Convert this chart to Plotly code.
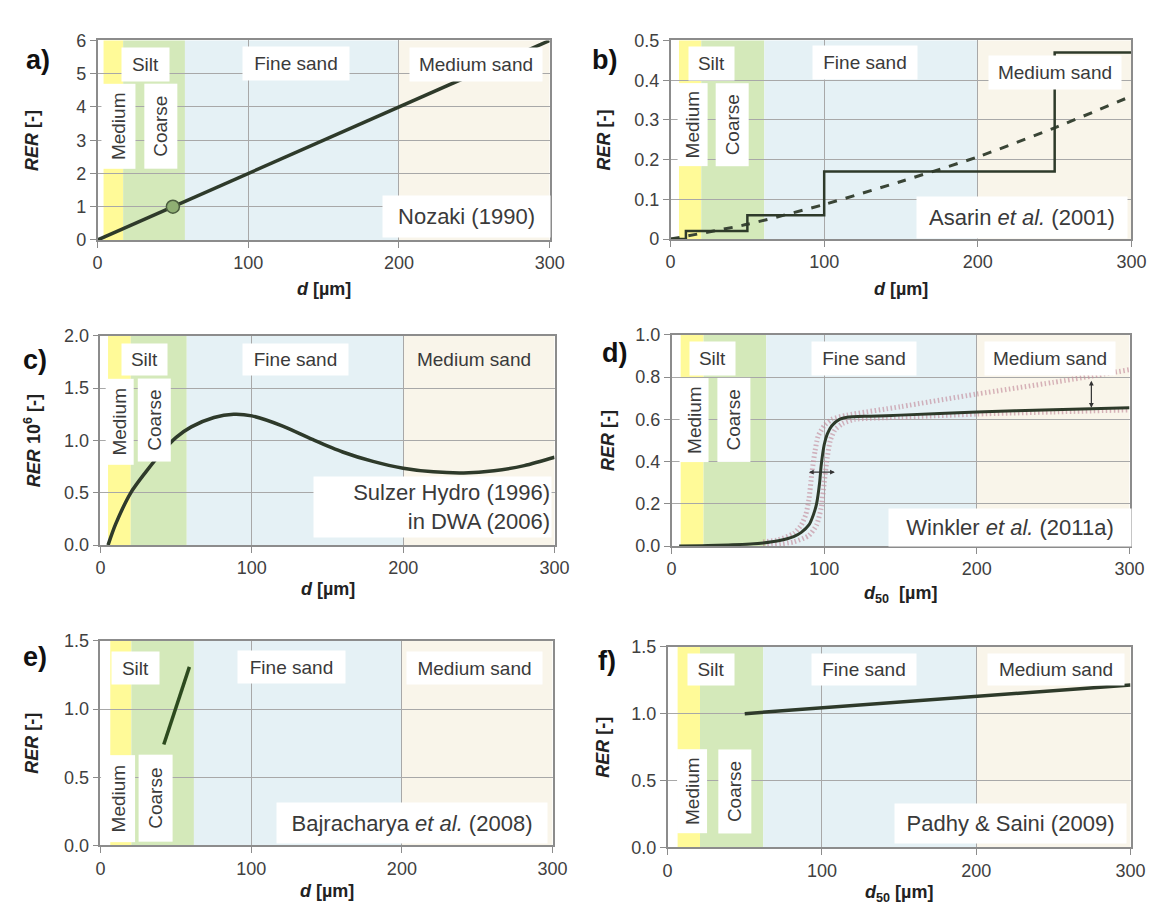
import plotly.graph_objects as go

W, H = 1167, 907
FONT = "Liberation Sans, Arial, sans-serif"

# ---------------- data ----------------
a_x = [0, 300]
a_y = [0, 6]
a_pt_x = [50]
a_pt_y = [1]

b_step_x = [0, 10, 50, 100, 250, 300]
b_step_y = [0, 0.02, 0.06, 0.17, 0.47, 0.47]
b_dash_x = [0, 50, 100, 150, 200, 250, 300]
b_dash_y = [0, 0.037, 0.087, 0.145, 0.207, 0.28, 0.36]

c_x = [5, 10, 20, 30, 40, 50, 60, 75, 88, 100, 120, 140, 160, 180, 200, 220, 240, 260, 280, 300]
c_y = [0, 0.2, 0.5, 0.7, 0.88, 1.03, 1.13, 1.22, 1.25, 1.235, 1.14, 1.01, 0.89, 0.8, 0.735, 0.7, 0.69, 0.71, 0.76, 0.84]

d_x = [5, 20, 40, 60, 70, 80, 85, 90, 93, 95, 97, 98, 100, 102, 105, 110, 115, 130, 150, 200, 250, 300]
d_y = [0, 0.002, 0.006, 0.015, 0.025, 0.045, 0.065, 0.1, 0.15, 0.2, 0.3, 0.38, 0.48, 0.53, 0.57, 0.6, 0.61, 0.615, 0.62, 0.635, 0.645, 0.655]
d_up_x = [60, 70, 80, 85, 88, 90, 92, 94, 96, 100, 105, 115, 150, 200, 250, 300]
d_up_y = [0.02, 0.03, 0.06, 0.1, 0.15, 0.22, 0.35, 0.45, 0.52, 0.57, 0.6, 0.62, 0.66, 0.72, 0.775, 0.835]
d_lo_x = [60, 80, 90, 95, 98, 100, 102, 104, 107, 112, 120, 150, 200, 250, 300]
d_lo_y = [0.0, 0.02, 0.05, 0.1, 0.18, 0.3, 0.42, 0.5, 0.55, 0.58, 0.6, 0.61, 0.625, 0.635, 0.645]

e_x = [42, 59]
e_y = [0.74, 1.31]

f_x = [50, 300]
f_y = [1.0, 1.215]

# grain-size class edges (µm) per panel
band_edges = {
    "a": [4, 17, 58, 200, 300],
    "b": [5.5, 20, 61, 200, 300],
    "c": [5, 20, 57, 200, 300],
    "d": [6, 21, 62, 200, 300],
    "e": [6.5, 20.5, 62, 200, 300],
    "f": [6.5, 21, 62, 200, 300],
}
band_colors = ["#FFFA98", "#D4E9BA", "#E5F1F5", "#F9F5EA"]

y_ranges = {"a": [0, 6], "b": [0, 0.5], "c": [0, 2.0], "d": [0, 1.0], "e": [0, 1.5], "f": [0, 1.5]}
y_dticks = {"a": 1, "b": 0.1, "c": 0.5, "d": 0.2, "e": 0.5, "f": 0.5}
y_formats = {"a": "d", "b": "", "c": ".1f", "d": ".1f", "e": ".1f", "f": ".1f"}
y_titles = {
    "a": "<b><i>RER</i> [-]</b>",
    "b": "<b><i>RER</i> [-]</b>",
    "c": "<b><i>RER</i> 10<sup>6</sup> [-]</b>",
    "d": "<b><i>RER</i> [-]</b>",
    "e": "<b><i>RER</i> [-]</b>",
    "f": "<b><i>RER</i> [-]</b>",
}
x_titles = {
    "a": "<b><i>d</i> [µm]</b>",
    "b": "<b><i>d</i> [µm]</b>",
    "c": "<b><i>d</i> [µm]</b>",
    "d": "<b><i>d</i><sub>50</sub>  [µm]</b>",
    "e": "<b><i>d</i> [µm]</b>",
    "f": "<b><i>d</i><sub>50</sub> [µm]</b>",
}
citations = {
    "a": "Nozaki (1990)",
    "b": "Asarin <i>et al.</i> (2001)",
    "c": "Sulzer Hydro (1996)<br>in DWA (2006)",
    "d": "Winkler <i>et al.</i> (2011a)",
    "e": "Bajracharya <i>et al.</i> (2008)",
    "f": "Padhy &amp; Saini (2009)",
}

# ---------------- layout geometry (pixels) ----------------
panels = {
    "a": dict(x0=86, x1=546, y0=23, y1=227),
    "b": dict(x0=669, x1=1138, y0=23, y1=226),
    "c": dict(x0=89, x1=551, y0=325, y1=539),
    "d": dict(x0=670, x1=1136, y0=324, y1=540),
    "e": dict(x0=89, x1=549, y0=637, y1=846),
    "f": dict(x0=666, x1=1137, y0=643, y1=848),
}
order = ["a", "b", "c", "d", "e", "f"]

# label boxes: (x_center data, y_center frac, width px, height px)
boxes = {
    "a": dict(silt=(32, 0.882, 45, 31), med=(14, 0.568, 31, 82), coarse=(41.8, 0.568, 30, 82),
              fine=(132, 0.885, 104, 31), meds=(251, 0.882, 130, 31), cit=(245, 0.12, 165, 39)),
    "b": dict(silt=(26.7, 0.882, 43, 31), med=(14.2, 0.578, 27, 80), coarse=(40.3, 0.578, 30, 80),
              fine=(126.5, 0.89, 102, 31), meds=(250, 0.837, 130, 31), cit=(228.5, 0.11, 208, 39)),
    "c": dict(silt=(29, 0.887, 43, 29), med=(12.4, 0.588, 25, 83), coarse=(35.8, 0.596, 30, 80),
              fine=(128.8, 0.887, 103, 29), meds=(247, 0.887, 130, 29), cit=(219.5, 0.18, 235, 58)),
    "d": dict(silt=(27, 0.887, 43, 31), med=(14.6, 0.598, 26, 81), coarse=(40.7, 0.598, 30, 81),
              fine=(126.4, 0.887, 102, 31), meds=(248, 0.887, 128, 31), cit=(222, 0.09, 240, 35)),
    "e": dict(silt=(23.4, 0.87, 45, 30), med=(11.7, 0.229, 31, 84), coarse=(36.6, 0.229, 31, 84),
              fine=(126.8, 0.874, 105, 30), meds=(248, 0.87, 133, 30), cit=(206.5, 0.11, 268, 38)),
    "f": dict(silt=(28, 0.887, 44, 29), med=(15.9, 0.278, 27, 81), coarse=(43.3, 0.278, 30, 81),
              fine=(127.6, 0.887, 102, 29), meds=(252, 0.887, 134, 29), cit=(222, 0.117, 229, 37)),
}
meds_bg = {"a": "white", "b": "white", "c": "rgba(0,0,0,0)", "d": "white", "e": "white", "f": "white"}

panel_letter_pos = {"a": (25, 43), "b": (602, 43), "c": (22, 350), "d": (612, 343), "e": (22, 653), "f": (604, 658)}
ytitle_x = {"a": 20, "b": 601, "c": 20, "d": 606, "e": 19, "f": 600}
xtitle_y = {"a": 277, "b": 277, "c": 584, "d": 590, "e": 893, "f": 895}

LINE = "#2E3A2A"
TXT = "#3A3A3A"
GRID = "#A8A8A8"
LABEL_SIZE = 19

fig = go.Figure()
annotations = []
shapes = []
layout = dict(
    width=W, height=H, margin=dict(l=0, r=0, t=0, b=0),
    paper_bgcolor="white", plot_bgcolor="white", showlegend=False,
    font=dict(family=FONT, color=TXT, size=18),
)

for i, p in enumerate(order):
    n = "" if i == 0 else str(i + 1)
    xa, ya = "x" + n, "y" + n
    g = panels[p]
    xdom = [g["x0"] / W, g["x1"] / W]
    ydom = [1 - g["y1"] / H, 1 - g["y0"] / H]
    layout["xaxis" + n] = dict(
        domain=xdom, anchor=ya, range=[0, 300], dtick=100, tick0=0,
        showgrid=True, gridcolor=GRID, gridwidth=1, zeroline=False,
        showline=True, linecolor="#8C8C8C", linewidth=1.5, mirror=True,
        ticks="outside", ticklen=6, tickcolor="#8C8C8C",
        tickfont=dict(size=18, color="#404040", family=FONT),
    )
    layout["yaxis" + n] = dict(
        domain=ydom, anchor=xa, range=y_ranges[p], dtick=y_dticks[p], tick0=0,
        tickformat=y_formats[p],
        showgrid=True, gridcolor=GRID, gridwidth=1, zeroline=False,
        showline=True, linecolor="#8C8C8C", linewidth=1.5, mirror=True,
        ticks="outside", ticklen=6, tickcolor="#8C8C8C",
        tickfont=dict(size=18, color="#404040", family=FONT),
    )
    # bands
    e = band_edges[p]
    for k in range(4):
        shapes.append(dict(type="rect", xref=xa, yref=ya + " domain", x0=e[k], x1=e[k + 1], y0=0, y1=1,
                           fillcolor=band_colors[k], line=dict(width=0), layer="below"))
    # boxes
    bx = boxes[p]
    def add_box(key, text, size, angle=0, bg="white", align="center"):
        xc, yf, w, h = bx[key]
        if angle:
            w, h = h, w
        annotations.append(dict(
            xref=xa, yref=ya + " domain", x=xc, y=yf, text=text, showarrow=False,
            width=w, height=h, bgcolor=bg, textangle=angle, align=align,
            xanchor="center", yanchor="middle", valign="middle",
            font=dict(size=size, color=TXT, family=FONT),
        ))
    add_box("silt", "Silt", LABEL_SIZE)
    add_box("med", "Medium", LABEL_SIZE, angle=-90)
    add_box("coarse", "Coarse", LABEL_SIZE, angle=-90)
    add_box("fine", "Fine sand", LABEL_SIZE)
    add_box("meds", "Medium sand", LABEL_SIZE, bg=meds_bg[p])
    add_box("cit", citations[p], 22, align="right" if p == "c" else "center")

    # panel letters and titles
    lx, ly = panel_letter_pos[p]
    annotations.append(dict(xref="paper", yref="paper", x=lx / W, y=1 - ly / H, text="<b>%s)</b>" % p,
                            showarrow=False, xanchor="center", yanchor="middle",
                            font=dict(size=27, color="#111111", family=FONT)))
    annotations.append(dict(xref="paper", yref="paper", x=ytitle_x[p] / W, y=1 - (g["y0"] + g["y1"]) / 2 / H,
                            text=y_titles[p], textangle=-90, showarrow=False,
                            xanchor="center", yanchor="middle",
                            font=dict(size=18, color="#222222", family=FONT)))
    annotations.append(dict(xref="paper", yref="paper", x=(g["x0"] + g["x1"]) / 2 / W, y=1 - xtitle_y[p] / H,
                            text=x_titles[p], showarrow=False, xanchor="center", yanchor="middle",
                            font=dict(size=18, color="#222222", family=FONT)))

# ---------------- traces ----------------
def tr(x, y, ax, **kw):
    n = "" if ax == 1 else str(ax)
    fig.add_trace(go.Scatter(x=x, y=y, xaxis="x" + n, yaxis="y" + n, hoverinfo="skip", **kw))

tr(a_x, a_y, 1, mode="lines", line=dict(color=LINE, width=3.5))
tr(a_pt_x, a_pt_y, 1, mode="markers", marker=dict(size=13, color="#8FAF73", line=dict(color="#4C5E40", width=1.5)))

tr(b_dash_x, b_dash_y, 2, mode="lines", line=dict(color="#3A4536", width=3, dash="dash", shape="spline", smoothing=0.6))
tr(b_step_x, b_step_y, 2, mode="lines", line=dict(color=LINE, width=2.5, shape="hv"))

tr(c_x, c_y, 3, mode="lines", line=dict(color=LINE, width=3.5, shape="spline", smoothing=0.8))

HATCH = "rgba(195,140,155,0.65)"
tr(d_up_x, d_up_y, 4, mode="lines", line=dict(color=HATCH, width=5, dash="1.5px,2.5px", shape="spline", smoothing=0.6))
tr(d_lo_x, d_lo_y, 4, mode="lines", line=dict(color=HATCH, width=5, dash="1.5px,2.5px", shape="spline", smoothing=0.6))
tr(d_x, d_y, 4, mode="lines", line=dict(color=LINE, width=3, shape="spline", smoothing=0.6))

tr(e_x, e_y, 5, mode="lines", line=dict(color="#2C4A1E", width=3.5))
tr(f_x, f_y, 6, mode="lines", line=dict(color=LINE, width=3.5))

# double arrows in panel d
annotations.append(dict(xref="x4", yref="y4", x=107, y=0.35, ax=89, ay=0.35, axref="x4", ayref="y4",
                        showarrow=True, arrowhead=2, arrowside="end+start", arrowsize=0.8,
                        arrowwidth=1.2, arrowcolor="#333333", text=""))
annotations.append(dict(xref="x4", yref="y4", x=275, y=0.655, ax=275, ay=0.79, axref="x4", ayref="y4",
                        showarrow=True, arrowhead=2, arrowside="end+start", arrowsize=0.8,
                        arrowwidth=1.2, arrowcolor="#333333", text=""))

layout["annotations"] = annotations
layout["shapes"] = shapes
fig.update_layout(**layout)
fig.write_html("out.html")
